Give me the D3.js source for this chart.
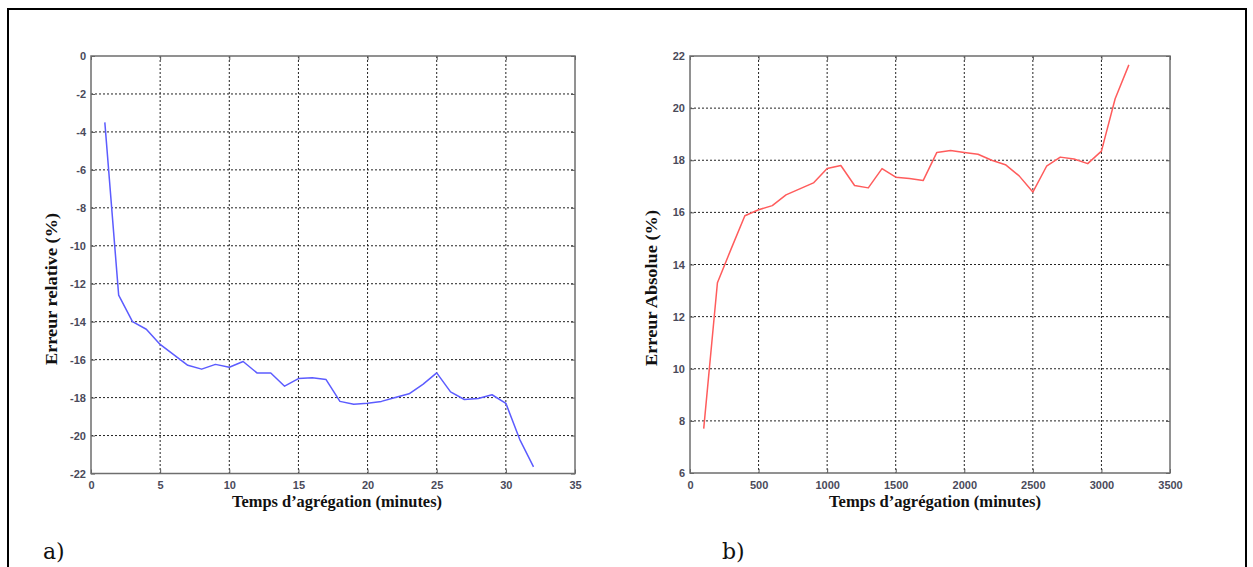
<!DOCTYPE html>
<html>
<head>
<meta charset="utf-8">
<script src="https://cdn.jsdelivr.net/npm/d3@7"></script>
<style>
  html, body { margin: 0; padding: 0; background: #fff; }
  svg { display: block; }
</style>
</head>
<body>
<svg id="chart" width="1253" height="567"></svg>
<script>
// ---- Data ----
const relTimes = d3.range(1, 33); // 1..32 minutes
const relError = [-3.5, -12.6, -14.0, -14.4, -15.2, -15.75, -16.3, -16.5, -16.25, -16.4,
                  -16.1, -16.7, -16.7, -17.4, -17.0, -16.95, -17.05, -18.2, -18.35, -18.3,
                  -18.2, -18.0, -17.8, -17.3, -16.7, -17.7, -18.1, -18.05, -17.85, -18.3,
                  -20.2, -21.65];
const absTimes = d3.range(100, 3201, 100); // 100..3200 minutes
const absError = [7.7, 13.3, 14.6, 15.87, 16.1, 16.26, 16.67, 16.9, 17.13, 17.68,
                  17.8, 17.03, 16.94, 17.68, 17.35, 17.3, 17.22, 18.3, 18.37, 18.3,
                  18.23, 18.0, 17.83, 17.4, 16.78, 17.77, 18.12, 18.05, 17.87, 18.35,
                  20.36, 21.66];
const relXTicks = [0, 5, 10, 15, 20, 25, 30, 35];
const relYTicks = [0, -2, -4, -6, -8, -10, -12, -14, -16, -18, -20, -22];
const absXTicks = [0, 500, 1000, 1500, 2000, 2500, 3000, 3500];
const absYTicks = [6, 8, 10, 12, 14, 16, 18, 20, 22];

const svg = d3.select("#chart");
const plainFmt = d => String(d);

// outer frame
svg.append("rect")
  .attr("x", 8).attr("y", 9).attr("width", 1238).attr("height", 570)
  .attr("fill", "none").attr("stroke", "#000").attr("stroke-width", 2);

function panel(opts) {
  const { left, right, top, bottom, xDomain, yDomain, xTicks, yTicks,
          xs, ys, color, yLabel, yLabelX, yLabelY, yLabelLen, xLabelX, xLabelLen, tag, tagX } = opts;
  const x = d3.scaleLinear().domain(xDomain).range([left, right]);
  const y = d3.scaleLinear().domain(yDomain).range([bottom, top]);
  const g = svg.append("g");

  // grid (dotted)
  g.append("g").selectAll("line").data(xTicks.slice(1, -1)).join("line")
    .attr("x1", d => x(d)).attr("x2", d => x(d))
    .attr("y1", top).attr("y2", bottom)
    .attr("stroke", "#222").attr("stroke-width", 1).attr("stroke-dasharray", "2,2");
  g.append("g").selectAll("line").data(yTicks.slice(1, -1)).join("line")
    .attr("y1", d => y(d)).attr("y2", d => y(d))
    .attr("x1", left).attr("x2", right)
    .attr("stroke", "#222").attr("stroke-width", 1).attr("stroke-dasharray", "2,2");

  // axes via d3 axis (inner ticks)
  const xAxis = g.append("g").attr("transform", `translate(0,${bottom})`)
    .call(d3.axisBottom(x).tickValues(xTicks).tickFormat(plainFmt).tickSizeInner(-4).tickSizeOuter(0).tickPadding(8));
  const yAxis = g.append("g").attr("transform", `translate(${left},0)`)
    .call(d3.axisLeft(y).tickValues(yTicks).tickFormat(plainFmt).tickSizeInner(-4).tickSizeOuter(0).tickPadding(5));
  const xAxisTop = g.append("g").attr("transform", `translate(0,${top})`)
    .call(d3.axisTop(x).tickValues(xTicks).tickSizeInner(-4).tickSizeOuter(0).tickFormat(""));
  const yAxisRight = g.append("g").attr("transform", `translate(${right},0)`)
    .call(d3.axisRight(y).tickValues(yTicks).tickSizeInner(-4).tickSizeOuter(0).tickFormat(""));
  [xAxis, yAxis, xAxisTop, yAxisRight].forEach(a => {
    a.select(".domain").remove();
    a.selectAll(".tick line").attr("stroke", "#555");
    a.selectAll("text")
      .attr("font-family", "'Liberation Sans', Arial, sans-serif")
      .attr("font-size", 11).attr("font-weight", "bold")
      .attr("fill", "#4a4a5a");
  });
  xAxis.selectAll("text").attr("dy", "0.71em");

  // box
  g.append("rect").attr("x", left).attr("y", top)
    .attr("width", right - left).attr("height", bottom - top)
    .attr("fill", "none").attr("stroke", "#6e6e6e").attr("stroke-width", 1.5);

  // line
  const data = xs.map((d, i) => [d, ys[i]]);
  g.append("path").datum(data)
    .attr("d", d3.line().x(d => x(d[0])).y(d => y(d[1])))
    .attr("fill", "none").attr("stroke", color).attr("stroke-width", 1.5)
    .attr("stroke-linejoin", "round");

  // labels
  g.append("text")
    .attr("transform", `translate(${yLabelX},${yLabelY}) rotate(-90)`)
    .attr("text-anchor", "middle")
    .attr("font-family", "'Liberation Serif', 'Times New Roman', serif")
    .attr("font-weight", "bold").attr("font-size", 16)
    .attr("textLength", yLabelLen).attr("lengthAdjust", "spacingAndGlyphs")
    .attr("fill", "#111")
    .text(yLabel);
  g.append("text")
    .attr("x", xLabelX).attr("y", 507)
    .attr("text-anchor", "middle")
    .attr("font-family", "'Liberation Serif', 'Times New Roman', serif")
    .attr("font-weight", "bold").attr("font-size", 17)
    .attr("textLength", xLabelLen).attr("lengthAdjust", "spacingAndGlyphs")
    .attr("fill", "#111")
    .text("Temps d\u2019agrégation (minutes)");
  g.append("text")
    .attr("x", tagX).attr("y", 559)
    .attr("font-family", "'DejaVu Serif', 'Liberation Serif', serif")
    .attr("font-size", 22).attr("fill", "#111")
    .text(tag);
}

panel({
  left: 91, right: 575, top: 56, bottom: 473.5,
  xDomain: [0, 35], yDomain: [-22, 0], xTicks: relXTicks, yTicks: relYTicks,
  xs: relTimes, ys: relError, color: "#5c5cff",
  yLabel: "Erreur relative (%)", yLabelX: 57, yLabelY: 289, yLabelLen: 152,
  xLabelX: 337, xLabelLen: 210, tag: "a)", tagX: 43
});
panel({
  left: 690, right: 1170, top: 56, bottom: 473,
  xDomain: [0, 3500], yDomain: [6, 22], xTicks: absXTicks, yTicks: absYTicks,
  xs: absTimes, ys: absError, color: "#ff5c5c",
  yLabel: "Erreur Absolue (%)", yLabelX: 657, yLabelY: 288, yLabelLen: 156,
  xLabelX: 935, xLabelLen: 212, tag: "b)", tagX: 722
});
</script>
</body>
</html>
